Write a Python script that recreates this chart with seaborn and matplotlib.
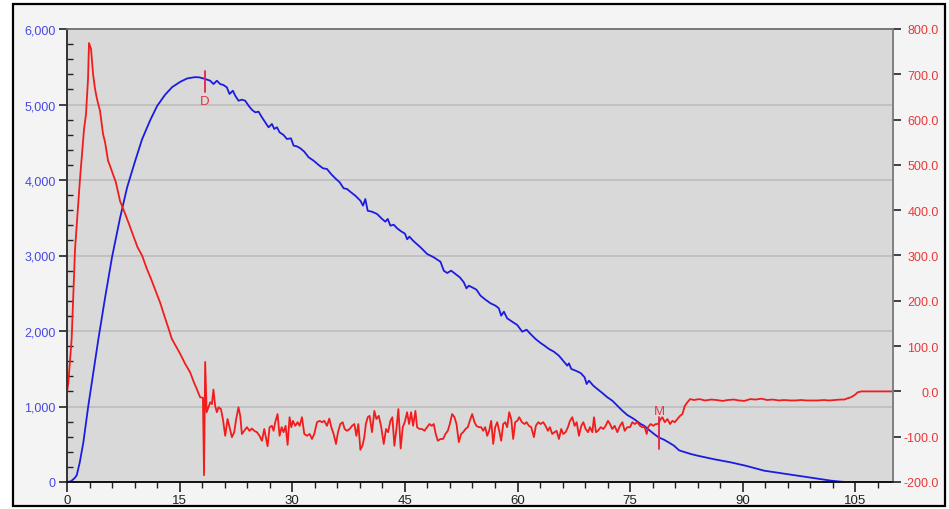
import seaborn as sns
import numpy as np
import matplotlib.pyplot as plt
from matplotlib.ticker import FuncFormatter, MultipleLocator
from matplotlib.patches import Rectangle

sns.set_style("ticks")
plt.rcParams['font.family'] = ['Liberation Sans', 'DejaVu Sans']
plt.rcParams['font.sans-serif'] = ['Liberation Sans', 'DejaVu Sans']

# blue curve, left axis
blue_x = [0, 0.5, 1.0, 1.29, 1.7, 2.18, 2.5, 2.84, 3.2, 3.51, 4.18, 5.07, 6.0, 7.07, 8.0, 9.07,
          10.0, 11.07, 12.0, 13.07, 14.0, 15.07, 16.0, 17.0, 17.6, 18.4, 19.07, 19.51, 19.96,
          20.4, 20.84, 21.29, 21.64, 22.09, 22.4, 22.84, 23.29, 23.73, 24.18, 24.62, 25.07,
          25.51, 25.96, 26.4, 26.84, 27.29, 27.6, 27.96, 28.31, 28.84, 29.29, 29.82, 30.18,
          30.62, 31.07, 31.6, 32.18, 32.84, 33.51, 34.09, 34.62, 35.16, 35.73, 36.31, 36.84,
          37.29, 37.82, 38.4, 39.07, 39.42, 39.73, 40.04, 40.62, 41.29, 41.96, 42.4, 42.71,
          43.07, 43.51, 43.96, 44.5, 45.0, 45.3, 45.6, 46.1, 46.6, 47.07, 47.96, 48.84, 49.73,
          50.18, 50.62, 51.16, 51.73, 52.31, 52.84, 53.2, 53.51, 53.96, 54.53, 55.07, 55.73,
          56.4, 57.07, 57.51, 57.82, 58.18, 58.62, 59.29, 59.96, 60.62, 61.2, 61.73, 62.4,
          63.07, 63.6, 64.18, 64.84, 65.51, 66.18, 66.62, 66.84, 67.16, 67.73, 68.4, 68.93,
          69.2, 69.51, 70.09, 70.62, 71.29, 71.96, 72.62, 73.29, 73.96, 74.62, 75.51, 76.4,
          76.84, 77.5, 78.18, 78.8, 79.51, 80.2, 80.84, 81.5, 82.18, 83.07, 83.96, 86.0, 88.4,
          90.4, 92.84, 95.0, 97.29, 99.5, 101.73, 103.0, 103.73, 110]
blue_y = [0, 8, 50, 88, 260, 526, 760, 1011, 1250, 1453, 1894, 2440, 2980, 3500, 3900, 4250,
          4540, 4790, 4980, 5130, 5230, 5300, 5345, 5362, 5360, 5338, 5315, 5271, 5315,
          5271, 5258, 5227, 5139, 5183, 5117, 5050, 5064, 5050, 4984, 4931, 4896,
          4905, 4830, 4764, 4698, 4742, 4676, 4698, 4632, 4596, 4543, 4552, 4455,
          4446, 4420, 4375, 4301, 4256, 4199, 4155, 4146, 4080, 4022, 3970, 3890,
          3881, 3837, 3792, 3726, 3660, 3748, 3593, 3580, 3550, 3484, 3448, 3484,
          3395, 3408, 3360, 3320, 3290, 3215, 3250, 3195, 3150, 3109, 3020, 2976, 2918,
          2799, 2768, 2799, 2755, 2711, 2645, 2565, 2600, 2578, 2547, 2468, 2415,
          2367, 2335, 2300, 2203, 2256, 2168, 2123, 2080, 1991, 2017, 1960, 1894,
          1841, 1805, 1762, 1726, 1673, 1594, 1541, 1572, 1497, 1475, 1444, 1387,
          1298, 1342, 1276, 1232, 1179, 1122, 1077, 1011, 944, 887, 834, 768,
          746, 690, 636, 590, 560, 520, 481, 420, 398, 371, 349, 305, 260,
          215, 150, 118, 84, 52, 18, 5, 0, 0]

# red curve, right axis
red_x = [0.0, 0.18, 0.62, 1.07, 1.73, 2.27, 2.53, 2.8, 2.93, 3.2, 3.47, 3.73, 4.0, 4.4, 4.8,
         5.07, 5.47, 5.73, 6.0, 6.5, 7.07, 7.6, 8.2, 8.8, 9.4, 10.0, 10.6, 11.2, 11.8, 12.4,
         13.0, 13.5, 13.96, 14.5, 15.07, 15.7, 16.4, 16.9, 17.29, 17.73, 18.1, 18.25, 18.4,
         18.6, 19.07, 19.3, 19.5, 19.73, 19.96, 20.18, 20.5, 20.76, 21.07, 21.38, 21.64,
         21.96, 22.27, 22.53, 22.84, 23.07, 23.29, 23.6, 23.96, 24.3, 24.62, 24.93, 25.29,
         25.64, 25.96, 26.27, 26.53, 26.71, 26.98, 27.29, 27.51, 27.73, 28.04, 28.31, 28.58,
         28.84, 29.11, 29.38, 29.64, 29.87, 30.09, 30.4, 30.71, 30.98, 31.29, 31.6, 31.96,
         32.31, 32.62, 32.93, 33.29, 33.64, 33.96, 34.27, 34.62, 34.93, 35.2, 35.51, 35.82,
         36.09, 36.4, 36.71, 36.98, 37.29, 37.64, 37.96, 38.27, 38.53, 38.8, 39.07, 39.38,
         39.6, 39.8, 40.05, 40.3, 40.62, 40.93, 41.2, 41.51, 41.82, 42.18, 42.49, 42.76,
         43.07, 43.33, 43.6, 43.87, 44.13, 44.44, 44.71, 44.98, 45.29, 45.56, 45.82, 46.09,
         46.4, 46.62, 46.93, 47.29, 47.6, 47.96, 48.27, 48.58, 48.84, 49.11, 49.38, 49.73,
         50.09, 50.4, 50.71, 50.98, 51.29, 51.6, 51.87, 52.18, 52.49, 52.76, 53.07, 53.38,
         53.64, 53.96, 54.27, 54.53, 54.84, 55.16, 55.42, 55.69, 55.96, 56.22, 56.49, 56.76,
         57.02, 57.29, 57.56, 57.82, 58.09, 58.36, 58.62, 58.89, 59.16, 59.42, 59.69, 59.96,
         60.22, 60.58, 60.93, 61.2, 61.51, 61.82, 62.18, 62.44, 62.76, 63.07, 63.42, 63.73,
         64.04, 64.31, 64.62, 64.93, 65.2, 65.51, 65.82, 66.09, 66.4, 66.71, 66.98, 67.29,
         67.6, 67.87, 68.18, 68.49, 68.76, 69.07, 69.38, 69.64, 69.96, 70.18, 70.44, 70.71,
         71.07, 71.42, 71.73, 72.04, 72.31, 72.62, 72.93, 73.29, 73.64, 73.96, 74.27, 74.62,
         74.98, 75.29, 75.6, 75.96, 76.31, 76.62, 76.93, 77.2, 77.38, 77.73, 78.09, 78.4,
         78.71, 79.07, 79.29, 79.6, 79.96, 80.31, 80.62, 80.93, 81.29, 81.64, 81.96, 82.27,
         82.62, 82.98, 83.5, 84.2, 85.0, 85.8, 86.5, 87.3, 88.0, 88.8, 89.5, 90.2, 91.0,
         91.7, 92.5, 93.2, 94.0, 94.8, 95.5, 96.3, 97.0, 97.8, 98.5, 99.3, 100.0, 100.8,
         101.5, 102.3, 103.0, 103.5, 104.0, 104.4, 104.9, 105.3, 105.8, 106.2, 110.0]
red_y = [-2, 20, 116, 314, 469, 579, 612, 690, 769, 756, 701, 668, 645, 619, 568,
         550, 509, 498, 485, 462, 420, 398, 372, 345, 318, 300, 272, 248, 222, 196,
         165, 140, 116, 100, 83, 62, 42, 20, 5, -13, -14, -185, 65,
         -46, -24, -28, 4, -32, -46, -35, -39, -61, -98, -61, -79,
         -101, -90, -61, -35, -54, -94, -87, -79, -87, -82, -87, -90,
         -98, -109, -83, -105, -121, -79, -76, -87, -68, -50, -98, -79,
         -90, -76, -118, -57, -79, -65, -76, -68, -76, -57, -94, -98,
         -94, -105, -94, -68, -65, -68, -65, -76, -60, -79, -94, -116,
         -90, -72, -68, -83, -87, -83, -76, -72, -98, -72, -129, -118,
         -100, -72, -57, -54, -90, -43, -61, -54, -76, -116, -83, -90,
         -65, -57, -120, -83, -39, -126, -79, -68, -46, -72, -46, -76,
         -43, -79, -83, -83, -87, -79, -72, -76, -72, -94, -109, -105,
         -105, -94, -87, -72, -50, -57, -72, -112, -94, -90, -83, -79,
         -65, -50, -68, -76, -79, -79, -87, -79, -98, -87, -65, -116,
         -79, -68, -87, -109, -72, -68, -79, -46, -61, -105, -68, -65,
         -57, -68, -72, -68, -76, -79, -101, -76, -68, -72, -68, -76,
         -87, -79, -94, -90, -87, -105, -83, -94, -90, -79, -65, -57,
         -76, -68, -98, -76, -68, -83, -90, -79, -90, -57, -90, -87,
         -79, -83, -76, -65, -72, -83, -76, -90, -76, -68, -87, -79,
         -79, -68, -72, -68, -76, -79, -79, -94, -79, -72, -76, -72,
         -72, -61, -57, -68, -61, -72, -65, -68, -61, -54, -50, -32,
         -24, -17, -19, -17, -20, -18, -19, -21, -19, -18, -20, -21, -17,
         -18, -16, -19, -18, -20, -19, -20, -20, -19, -20, -20, -20, -19,
         -20, -19, -18, -18, -15, -13, -8, -2, 0, 0, 0]

x_ticks = [0, 15, 30, 45, 60, 75, 90, 105]
markers = {"D": (18.4, 5166, 5444, 5040), "M": (78.9, 437, 860, 945)}

fig = plt.figure(figsize=(9.49, 5.10), dpi=100, facecolor="white")
frame = Rectangle((13 / 949, 3 / 510), 932 / 949, 502 / 510,
                  transform=fig.transFigure, facecolor="#f4f4f4",
                  edgecolor="black", lw=1.6, zorder=-10)
fig.add_artist(frame)
ax = fig.add_axes([67 / 949, 27 / 510, 826 / 949, 453 / 510])
ax.set_zorder(1)
ax.set_facecolor("#d9d9d9")
ax2 = ax.twinx()
ax2.set_zorder(2)

sns.lineplot(x=blue_x, y=blue_y, ax=ax, color="#1c1ce0", lw=1.3,
             estimator=None, sort=False, legend=False)
sns.lineplot(x=red_x, y=red_y, ax=ax2, color="#f21c1c", lw=1.3,
             estimator=None, sort=False, legend=False)

for name, (mx, y0, y1, ty) in markers.items():
    ax.plot([mx, mx], [y0, y1], color="#e8204a", lw=1.3, zorder=5)
    ax.text(mx, ty, name, color="#e8344a", fontsize=9.5, ha="center", va="center", zorder=5)

ax.set_xlim(0, 110)
ax.set_ylim(0, 6000)
ax2.set_ylim(-200, 800)
ax.set_xticks(x_ticks)
ax.xaxis.set_minor_locator(MultipleLocator(3))
ax.yaxis.set_major_locator(MultipleLocator(1000))
ax.yaxis.set_minor_locator(MultipleLocator(200))
ax2.yaxis.set_major_locator(MultipleLocator(100))
ax.yaxis.set_major_formatter(FuncFormatter(lambda v, p: f"{v:,.0f}"))
ax2.yaxis.set_major_formatter(FuncFormatter(lambda v, p: f"{v:.1f}"))

ax.yaxis.grid(True, which="major", color="#bdbdbd", lw=1.2)
ax.set_axisbelow(True)

ax.tick_params(axis="y", which="major", direction="out", length=6, width=1.2,
               color="#222222", labelcolor="#4848e0", labelsize=9, pad=2)
ax.tick_params(axis="y", which="minor", direction="in", length=4, width=1, color="#222222")
ax.tick_params(axis="x", which="major", direction="out", length=7, width=1.2,
               color="#222222", labelcolor="#222222", labelsize=9.5, pad=2)
ax.tick_params(axis="x", which="minor", direction="out", length=4, width=1, color="#222222")
ax2.tick_params(axis="y", which="major", direction="out", length=6, width=1.2,
                color="#222222", labelcolor="#e83838", labelsize=9, pad=27)
for lab in ax2.get_yticklabels():
    lab.set_horizontalalignment("right")

for a in (ax, ax2):
    a.spines["left"].set_color("#333333")
    a.spines["bottom"].set_color("#111111")
    a.spines["top"].set_color("#777777")
    a.spines["right"].set_color("#808080")
    for s in a.spines.values():
        s.set_linewidth(1.2)
ax.set_xlabel("")
ax.set_ylabel("")
ax2.set_ylabel("")

fig.savefig("out.png", dpi=100, facecolor=fig.get_facecolor())
